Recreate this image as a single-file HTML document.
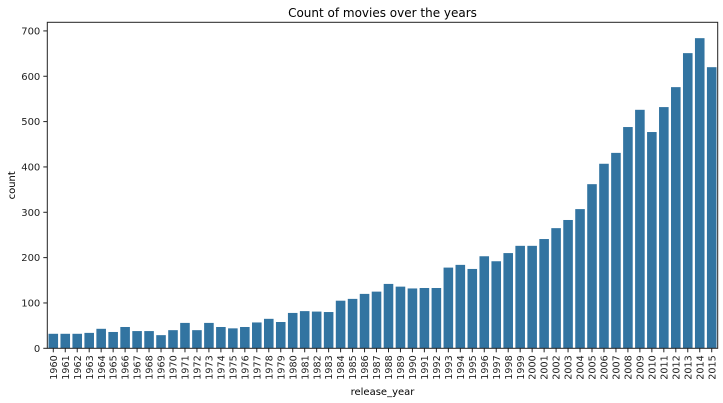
<!DOCTYPE html>
<html><head><meta charset="utf-8"><style>
body{margin:0;background:#fff;}
svg{display:block;font-family:"DejaVu Sans","Liberation Sans",sans-serif;}
</style></head><body>
<svg id="chart" width="723" height="403"></svg>
<script>
const categories=[1960,1961,1962,1963,1964,1965,1966,1967,1968,1969,1970,1971,1972,1973,1974,1975,1976,1977,1978,1979,1980,1981,1982,1983,1984,1985,1986,1987,1988,1989,1990,1991,1992,1993,1994,1995,1996,1997,1998,1999,2000,2001,2002,2003,2004,2005,2006,2007,2008,2009,2010,2011,2012,2013,2014,2015];
const counts=[32,32,32,34,43,36,47,38,38,29,40,56,40,56,47,44,47,57,65,58,78,82,81,80,105,109,120,125,142,136,132,133,133,178,184,175,203,192,210,226,226,241,265,283,307,362,407,431,488,526,477,532,576,651,684,620];
const yTicks=[0,100,200,300,400,500,600,700];
const NS="http://www.w3.org/2000/svg";
const svg=document.getElementById('chart');
const L=47.3,R=717.7,T=22.3,B=348.3,YMAX=719;
const y=v=>B-(v/YMAX)*(B-T);
const step=(R-L)/categories.length;
const x=i=>L+i*step;
function mk(tag,attrs,txt){const e=document.createElementNS(NS,tag);for(const k in attrs)e.setAttribute(k,attrs[k]);if(txt!=null)e.textContent=txt;svg.appendChild(e);return e;}
counts.forEach((v,i)=>{
 const r=mk('rect',{x:x(i)+step*0.1,y:y(v),width:step*0.8,height:B-y(v),fill:'#3274a1'});
 
 
});
const frame=mk('rect',{x:L,y:T,width:R-L,height:B-T,fill:'none',stroke:'#222','stroke-width':1});


yTicks.forEach(t=>{
 mk('line',{x1:L-4,x2:L,y1:y(t),y2:y(t),stroke:'#222'});
 const tx=mk('text',{x:L-7,y:y(t)+3.5,'font-size':10,'text-anchor':'end',fill:'#222'},t);
 
 
});
categories.forEach((c,i)=>{
 const cx=x(i)+step/2;
 mk('line',{x1:cx,x2:cx,y1:B,y2:B+4,stroke:'#222'});
 const tx=mk('text',{x:0,y:0,'font-size':9.6,'text-anchor':'end',fill:'#222',transform:`translate(${cx+3.6},${B+7}) rotate(-90)`},c);
 
 
});
const title=mk('text',{x:(L+R)/2,y:17,'font-size':12,'text-anchor':'middle',fill:'#000'},'Count of movies over the years');


const xl=mk('text',{x:(L+R)/2,y:395,'font-size':10,'text-anchor':'middle',fill:'#000'},'release_year');


const yl=mk('text',{x:0,y:0,'font-size':10,'text-anchor':'middle',fill:'#000',transform:`translate(15,${(T+B)/2}) rotate(-90)`},'count');


</script>
</body></html>
